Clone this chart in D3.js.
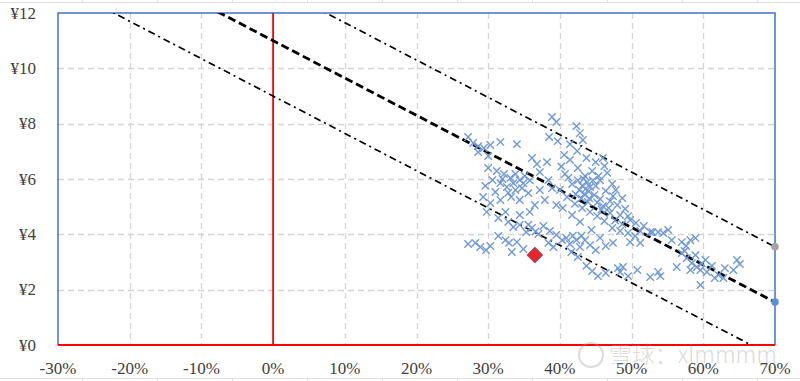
<!DOCTYPE html>
<html><head><meta charset="utf-8">
<script src="https://cdn.jsdelivr.net/npm/d3@7"></script>
<style>body{margin:0;background:#fff}svg{display:block}</style>
</head><body>
<svg id="c" width="800" height="381"></svg>
<script>
const xTicks = [-0.3,-0.2,-0.1,0,0.1,0.2,0.3,0.4,0.5,0.6,0.7];
const yTicks = [0,2,4,6,8,10,12];
const slope = -13.5;
const lineIntercepts = [9, 11, 13];
const lineStyles = ["dashdot","dash","dashdot"];
const endDots = [{v:1.55,c:"#5b8fd6"},{v:3.55,c:"#a5a5a5"}];
const highlight = [36.5, 3.25];
const pts = [
[27.2,7.52],[27.9,7.30],[28.6,7.19],[29.4,7.12],[30.3,7.23],[31.7,7.34],[34.0,7.26],[30.0,6.83],[28.6,6.97],[36.1,6.76],
[36.8,6.54],[38.2,6.61],[37.2,6.25],[30.0,6.40],[31.2,6.29],[32.2,6.18],[33.1,6.04],[33.8,6.18],[34.4,5.96],[35.1,6.11],
[30.6,5.96],[31.7,5.85],[29.6,5.75],[32.6,5.71],[33.8,5.60],[34.7,5.67],[35.6,5.49],[31.0,5.53],[29.3,5.35],[31.7,5.24],
[33.2,5.35],[34.4,5.24],[38.4,5.96],[38.9,5.67],[37.2,5.60],[37.9,5.24],[36.5,5.06],[30.3,5.13],[29.8,4.81],[32.4,4.81],
[34.4,4.70],[35.8,4.81],[32.0,6.00],[33.5,5.85],[34.9,5.85],[32.8,5.50],[35.8,5.95],
[31.4,4.59],[32.8,4.45],[33.5,4.26],[34.4,4.34],[35.3,4.08],[36.1,4.23],[37.0,4.01],[37.7,4.30],[38.6,4.12],[39.5,3.98],
[31.4,3.94],[32.4,3.79],[32.9,3.69],[34.0,3.72],[34.9,3.47],[33.3,3.36],[30.3,3.58],[27.2,3.65],[28.2,3.69],[28.9,3.54],
[29.7,3.43],[38.4,3.69],[39.1,3.54],[40.3,3.79],[35.6,4.35],[36.6,4.10],
[38.9,8.24],[39.5,8.06],[38.5,7.52],[39.7,7.37],[42.3,7.91],[42.8,7.66],[43.2,7.41],[41.4,7.26],[42.4,7.01],[40.6,6.87],
[41.4,6.69],[43.7,6.76],[45.0,6.61],[46.0,6.76],[42.5,6.40],[43.5,6.11],[44.5,6.29],[45.6,5.96],[46.6,6.22],[47.3,5.82],
[40.7,6.18],[41.7,5.82],[42.7,5.60],[43.4,5.46],[44.2,5.71],[44.8,5.42],[45.6,5.28],[46.4,5.57],[47.0,5.20],[48.0,5.06],
[40.0,5.60],[41.0,5.35],[42.1,5.10],[43.1,4.95],[43.9,5.17],[44.2,4.81],[45.2,4.66],[46.0,5.02],[47.0,4.77],[48.4,4.70],
[49.1,4.92],[49.8,4.52],[50.6,4.41],[51.7,4.30],[52.6,4.08],[47.3,4.23],[48.4,4.12],[49.5,4.05],[50.5,3.94],[46.2,4.48],
[44.4,4.16],[42.8,4.45],[41.7,4.70],[40.4,4.95],[39.5,5.06],[43.8,5.89],[43.1,5.75],[45.0,5.75],[45.4,6.11],[46.2,6.47],
[47.8,5.60],[48.7,5.31],[47.4,5.38],[48.7,4.37],[49.5,4.66],[51.2,4.12],[43.0,5.30],[44.0,5.55],[42.5,5.95],[45.8,4.90],
[43.6,5.65],[44.6,5.95],[43.3,6.00],[44.1,5.30],[42.2,5.45],[45.2,5.15],[46.8,4.95],[41.2,6.05],[40.2,6.45],[47.7,4.50],
[40.9,3.87],[41.4,3.65],[42.3,3.79],[42.8,3.54],[43.5,3.79],[44.2,3.61],[45.0,3.43],[45.6,3.87],[46.4,3.58],[41.6,3.36],
[42.5,3.18],[47.4,3.69],[49.8,3.72],[51.2,3.69],[41.8,3.95],[43.0,3.95],
[43.7,2.86],[44.5,2.67],[45.3,2.49],[46.4,2.60],[48.1,2.78],[48.8,2.82],[48.4,2.64],[50.8,2.71],[52.6,2.46],[53.7,2.64],
[54.0,2.49],[49.5,2.49],
[52.9,4.08],[53.7,4.08],[54.4,4.05],[55.1,4.16],[55.6,3.79],[57.0,3.72],[58.2,3.79],[57.6,3.58],[58.9,3.87],[57.0,3.32],
[57.7,3.14],[58.4,2.96],[59.1,2.82],[59.6,2.71],[56.3,2.82],[58.2,2.71],[60.5,2.64],[61.2,2.86],[62.1,2.53],[62.8,2.42],
[64.7,3.07],[65.1,2.93],[64.2,2.71],[61.6,2.42],[59.6,2.17],[63.0,2.78],[60.3,3.07],[58.9,3.25],[57.4,3.40],[59.8,2.95]
];
const pctFmt = d => Math.round(d*100) + "%";
const yFmt = d => "¥" + d;

const svg = d3.select("#c");
const W = 800, H = 381;
const x = d3.scaleLinear().domain([-0.3,0.7]).range([58,775]);
const y = d3.scaleLinear().domain([0,12]).range([345,13]);

// faint spreadsheet cell lines
const cellX = d3.range(82, 800, 75);
svg.append("line").attr("x1",0).attr("x2",W).attr("y1",2.5).attr("y2",2.5).attr("stroke","#e0e0e0");
svg.append("line").attr("x1",0).attr("x2",W).attr("y1",378.5).attr("y2",378.5).attr("stroke","#e0e0e0");
svg.selectAll(".ct").data(cellX).join("line").attr("x1",d=>d+0.5).attr("x2",d=>d+0.5).attr("y1",0).attr("y2",2.5).attr("stroke","#e0e0e0");
svg.selectAll(".cb").data(cellX).join("line").attr("x1",d=>d+0.5).attr("x2",d=>d+0.5).attr("y1",378.5).attr("y2",381).attr("stroke","#e0e0e0");

// grid
const g = svg.append("g");
g.selectAll(".vg").data(xTicks.slice(1,-1).filter(d=>Math.abs(d)>1e-9)).join("line")
  .attr("x1",d=>Math.round(x(d))+0.5).attr("x2",d=>Math.round(x(d))+0.5).attr("y1",y(12)).attr("y2",y(0))
  .attr("stroke","#d4d4d4").attr("stroke-width",1.3).attr("stroke-dasharray","6,4");
g.selectAll(".hg").data(yTicks.slice(1,-1)).join("line")
  .attr("y1",d=>Math.round(y(d))+0.5).attr("y2",d=>Math.round(y(d))+0.5).attr("x1",x(-0.3)).attr("x2",x(0.7))
  .attr("stroke","#d4d4d4").attr("stroke-width",1.3).attr("stroke-dasharray","6,4");

// frame
g.append("path").attr("d",`M${x(-0.3)},${y(0)}V${y(12)}H${x(0.7)}V${y(0)}`).attr("fill","none").attr("stroke","#4472c4").attr("stroke-width",1.5);
g.append("line").attr("x1",x(-0.3)).attr("x2",x(0.7)).attr("y1",y(0)).attr("y2",y(0)).attr("stroke","#ff0000").attr("stroke-width",2);
g.append("line").attr("x1",x(0)).attr("x2",x(0)).attr("y1",y(0)).attr("y2",y(12)).attr("stroke","#ff0000").attr("stroke-width",1.8);

// tick labels
svg.selectAll(".yl").data(yTicks).join("text").attr("x",36).attr("y",d=>y(d)+5.8)
  .attr("text-anchor","end").attr("font-family","Liberation Serif, serif").attr("font-size",17).attr("fill","#404040").text(yFmt);
svg.selectAll(".xl").data(xTicks).join("text").attr("x",d=>x(d)).attr("y",374)
  .attr("text-anchor","middle").attr("font-family","Liberation Serif, serif").attr("font-size",17).attr("fill","#404040").text(pctFmt);

// clip
svg.append("clipPath").attr("id","pc").append("rect").attr("x",x(-0.3)).attr("y",y(12)).attr("width",x(0.7)-x(-0.3)).attr("height",y(0)-y(12));

// band lines
const lineGen = d3.line().x(d=>x(d[0])).y(d=>y(d[1]));
const lg = svg.append("g").attr("clip-path","url(#pc)");
lineIntercepts.forEach((b,i)=>{
  const dataL = [[-0.3, b + slope*-0.3],[0.7, b + slope*0.7]];
  const dash = lineStyles[i]==="dash";
  lg.append("path").attr("d",lineGen(dataL)).attr("fill","none").attr("stroke","#000")
    .attr("stroke-width",dash?2.8:1.7).attr("stroke-dasharray",dash?"8,4":"7,4,2,4");
});

// scatter x markers
const s = 3.7;
svg.append("g").selectAll("path").data(pts).join("path")
  .attr("d",d=>{const cx=x(d[0]/100), cy=y(d[1]);return `M${cx-s},${cy-s}L${cx+s},${cy+s}M${cx-s},${cy+s}L${cx+s},${cy-s}`;})
  .attr("stroke","#7099d6").attr("stroke-width",1.4).attr("fill","none");

// end dots
svg.selectAll(".ed").data(endDots).join("circle").attr("cx",x(0.7)).attr("cy",d=>y(d.v)).attr("r",3.8).attr("fill",d=>d.c);

// highlight diamond
const hx = x(highlight[0]/100), hy = y(highlight[1]), r = 8;
svg.append("path").attr("d",`M${hx},${hy-r}L${hx+r},${hy}L${hx},${hy+r}L${hx-r},${hy}Z`)
  .attr("fill","#e8262a").attr("stroke","#4a5aa8").attr("stroke-width",0.8);

// watermark
const wm = svg.append("g").attr("opacity",0.35);
wm.append("circle").attr("cx",591).attr("cy",355).attr("r",12).attr("fill","none").attr("stroke","#999").attr("stroke-width",2);
wm.append("text").attr("x",609).attr("y",363).attr("font-family","Noto Sans CJK SC, sans-serif").attr("font-weight",300)
  .attr("font-size",23).attr("textLength",168).attr("lengthAdjust","spacingAndGlyphs").attr("fill","#999").text("雪球：xlmmmm");
</script>
</body></html>
